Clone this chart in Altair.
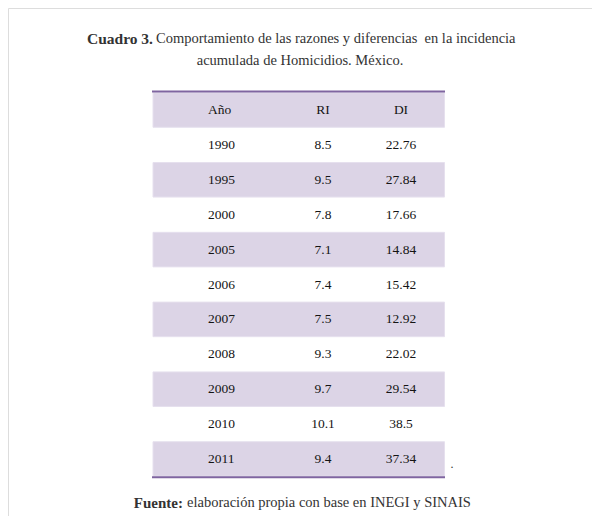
import altair as alt
import pandas as pd

# ---- data ----
columns = ["Año", "RI", "DI"]
years = ["1990", "1995", "2000", "2005", "2006", "2007", "2008", "2009", "2010", "2011"]
ri = ["8.5", "9.5", "7.8", "7.1", "7.4", "7.5", "9.3", "9.7", "10.1", "9.4"]
di = ["22.76", "27.84", "17.66", "14.84", "15.42", "12.92", "22.02", "29.54", "38.5", "37.34"]

title_bold = "Cuadro 3."
title_line1 = "Comportamiento de las razones y diferencias\u00a0 en la incidencia"
title_line2 = "acumulada de Homicidios. México."
source_bold = "Fuente:"
source_text = "elaboración propia con base en INEGI y SINAIS"

# ---- tables ----
cells = [{"row": 0, "col": j, "txt": c} for j, c in enumerate(columns)]
for i, (y, r, d) in enumerate(zip(years, ri, di), start=1):
    cells += [{"row": i, "col": 0, "txt": y},
              {"row": i, "col": 1, "txt": r},
              {"row": i, "col": 2, "txt": d}]
cells_df = pd.DataFrame(cells)

shaded_rows = pd.DataFrame({"row": [0] + [i for i in range(1, 11) if i % 2 == 0]})

SHADE = "#dcd4e6"
LINE = "#7f65a0"
TXT = "#141414"
SERIF = "Liberation Serif"

yscale = alt.Scale(domain=[0, 10], range=[102, 451])
xscale = alt.Scale(domain=[0, 2], range=[237, 393])

base = alt.Chart(cells_df)

bands = alt.Chart(shaded_rows).transform_calculate(
    y0="datum.row - 0.495", y1="datum.row + 0.495"
).mark_rect(color=SHADE, stroke="#e6e0ee", strokeWidth=1).encode(
    x=alt.value(145), x2=alt.value(436.5),
    y=alt.Y("y0:Q", scale=yscale, axis=None),
    y2="y1:Q",
)

rule_df = pd.DataFrame({"pos": [-0.53, 10.52]})
rules = alt.Chart(rule_df).mark_rule(color=LINE, strokeWidth=2).encode(
    x=alt.value(144), x2=alt.value(437),
    y=alt.Y("pos:Q", scale=yscale, axis=None),
)

text_first = base.transform_filter(alt.datum.col == 0).mark_text(
    align="left", baseline="middle", font=SERIF, fontSize=13.5, color=TXT, dx=-37
).encode(
    x=alt.X("col:Q", scale=xscale, axis=None),
    y=alt.Y("row:Q", scale=yscale, axis=None),
    text="txt:N",
)

text_rest = base.transform_filter(alt.datum.col != 0).mark_text(
    align="center", baseline="middle", font=SERIF, fontSize=13.5, color=TXT
).encode(
    x=alt.X("col:Q", scale=xscale, axis=None),
    y=alt.Y("row:Q", scale=yscale, axis=None),
    text="txt:N",
)

ann = pd.DataFrame({"k": [0]})
def label(txt, x, y, align, bold=False, size=14.5, color="#333333"):
    return alt.Chart(ann).mark_text(
        text=txt, align=align, baseline="middle", font=SERIF,
        fontSize=size, fontWeight="bold" if bold else "normal", color=color
    ).encode(x=alt.value(x), y=alt.value(y))

titles = (
    label(title_bold, 145, 31, "right", bold=True, size=15.5)
    + label(title_line1, 148, 31, "left")
    + label(title_line2, 292, 53, "center")
    + label(source_bold, 175, 495, "right", bold=True, size=15)
    + label(source_text, 179, 495, "left")
    + label(".", 444, 456, "center", size=12)
)

chart = alt.layer(bands, rules, text_first, text_rest, titles).properties(
    width=584, height=508,
    autosize=alt.AutoSizeParams(type="none"),
    padding=0,
).configure_view(stroke=None).configure(background="white")

chart.save("out.html", embed_options={"renderer": "svg", "actions": False})
